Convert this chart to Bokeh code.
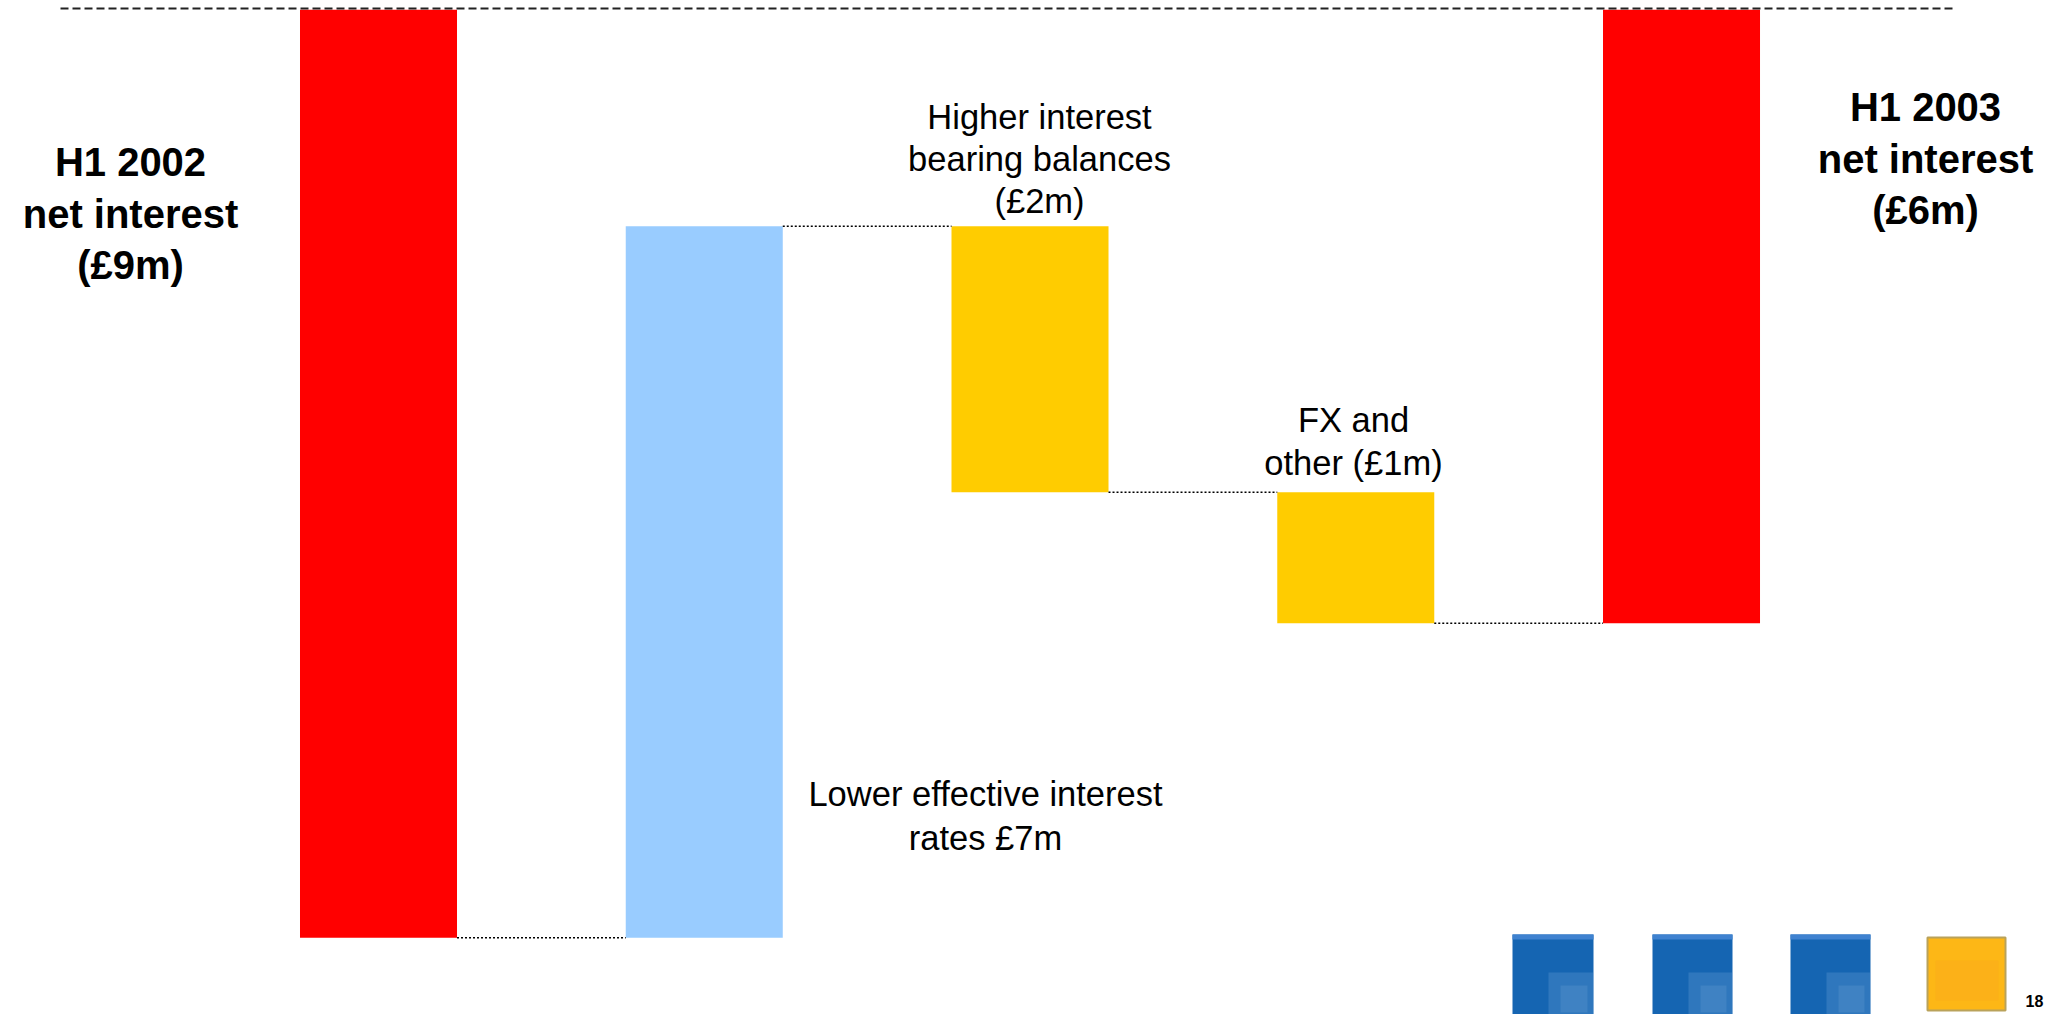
from bokeh.plotting import figure
from bokeh.models import Range1d, ColumnDataSource
from bokeh.core.properties import value
from bokeh.embed import file_html
from bokeh.resources import INLINE

# ---------------- data ----------------
categories = ["H1 2002", "Lower effective interest rates",
              "Higher interest bearing balances", "FX and other", "H1 2003"]
start_value = 9.0          # H1 2002 net interest (£m)
changes = [-6.9, 2.58, 1.27]  # bridge steps (£m)
end_value = 5.95           # H1 2003 net interest (£m)
bar_colors = ["#FF0000", "#99CCFF", "#FFCC00", "#FFCC00", "#FF0000"]

label_left = ["H1 2002", "net interest", "(£9m)"]
label_right = ["H1 2003", "net interest", "(£6m)"]
label_higher = ["Higher interest", "bearing balances", "(£2m)"]
label_fx = ["FX and", "other (£1m)"]
label_lower = ["Lower effective interest", "rates £7m"]
page_number = "18"

# ---------------- layout ----------------
W, H = 2064, 1014
X0, X1 = -1.1604, 5.1757
Y_TOP, Y_BOT = -0.09, 9.745
BAR_W = 0.482


def dx(px):
    return X0 + px * (X1 - X0) / W


def dy(px):
    return Y_TOP + px * (Y_BOT - Y_TOP) / H


p = figure(width=W, height=H, x_range=Range1d(X0, X1), y_range=Range1d(Y_BOT, Y_TOP),
           output_backend="svg", toolbar_location=None,
           x_axis_location=None, y_axis_location=None, min_border=0,
           outline_line_color=None, background_fill_color="white",
           border_fill_color="white")
p.grid.visible = False

# waterfall geometry from the data
xs = list(range(len(categories)))
bottoms, tops = [0.0], [start_value]
running = start_value
levels = [running]
for c in changes:
    nxt = running + c
    bottoms.append(min(running, nxt))
    tops.append(max(running, nxt))
    running = nxt
    levels.append(running)
bottoms.append(0.0)
tops.append(end_value)

src = ColumnDataSource(dict(x=xs, bottom=bottoms, top=tops, color=bar_colors))
p.vbar(x="x", bottom="bottom", top="top", width=BAR_W, fill_color="color",
       line_color=None, source=src)

# dotted connectors
cx0 = [xs[i] + BAR_W / 2 for i in range(len(levels))]
cx1 = [xs[i + 1] - BAR_W / 2 for i in range(len(levels))]
p.segment(x0=cx0, x1=cx1, y0=levels, y1=levels, line_color="black",
          line_width=1.5, line_dash="2 2")

# dashed top line
p.segment(x0=[dx(60)], x1=[dx(1953)], y0=[dy(8)], y1=[dy(8)],
          line_color="#222222", line_width=2, line_dash="8 4")

FONT = value("Liberation Sans")


def add_lines(lines, cx, baselines, size, style):
    p.text(x=[dx(cx)] * len(lines), y=[dy(b) for b in baselines], text=lines,
           text_font=FONT, text_font_size=value(f"{size}px"),
           text_font_style=style, text_align="center",
           text_baseline="alphabetic", text_color="black")


add_lines(label_left, 130, [161, 213, 264], 40, "bold")
add_lines(label_right, 1925, [106, 158, 209], 40, "bold")
add_lines(label_higher, 1039, [116, 158, 200], 34.5, "normal")
add_lines(label_fx, 1353, [419, 462], 34.5, "normal")
add_lines(label_lower, 985, [793, 837], 34.5, "normal")

# decorative navigation squares (bottom right)
blue_sq = [(1512, 1593), (1652, 1732), (1790, 1870)]
for l, r in blue_sq:
    p.quad(left=[dx(l)], right=[dx(r)], top=[dy(934)], bottom=[dy(1020)],
           fill_color="#1565B2", line_color=None)
    p.quad(left=[dx(l)], right=[dx(r)], top=[dy(934)], bottom=[dy(939)],
           fill_color="#3F82D0", line_color=None)
    p.quad(left=[dx(l + 36)], right=[dx(r)], top=[dy(972)], bottom=[dy(1020)],
           fill_color="#7FAEE0", fill_alpha=0.25, line_color=None)
    p.quad(left=[dx(l + 48)], right=[dx(r - 6)], top=[dy(985)], bottom=[dy(1012)],
           fill_color="#9CC0E8", fill_alpha=0.15, line_color=None)

p.quad(left=[dx(1927)], right=[dx(2005)], top=[dy(937)], bottom=[dy(1010)],
       fill_color="#FDB716", line_color="#B9A25A", line_width=2)
p.quad(left=[dx(1935)], right=[dx(1998)], top=[dy(960)], bottom=[dy(1000)],
       fill_color="#F9A81B", fill_alpha=0.4, line_color=None)

p.text(x=[dx(2034)], y=[dy(1000)], text=[page_number], text_font=FONT,
       text_font_size=value("16px"), text_font_style="bold", text_align="center",
       text_baseline="alphabetic", text_color="black")

open("out.html", "w").write(file_html(p, INLINE))
